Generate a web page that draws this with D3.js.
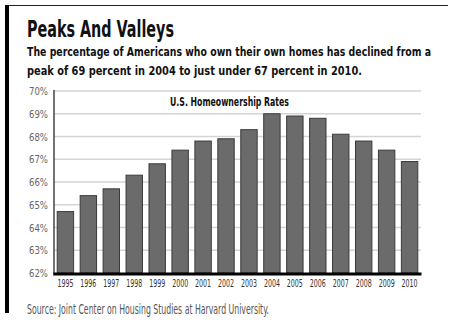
<!DOCTYPE html>
<html>
<head>
<meta charset="utf-8">
<script src="https://cdn.jsdelivr.net/npm/d3@7"></script>
<style>
  body { margin: 0; background: #fff; }
  svg { display: block; }
  text { font-family: "Liberation Sans Narrow", "DejaVu Sans Condensed", sans-serif; }
</style>
</head>
<body>
<svg id="chart" width="450" height="325"></svg>
<script>
var years = ["1995", "1996", "1997", "1998", "1999", "2000", "2001", "2002",
             "2003", "2004", "2005", "2006", "2007", "2008", "2009", "2010"];
var rates = [64.7, 65.4, 65.7, 66.3, 66.8, 67.4, 67.8, 67.9,
             68.3, 69.0, 68.9, 68.8, 68.1, 67.8, 67.4, 66.9];
var yTicks = [62, 63, 64, 65, 66, 67, 68, 69, 70];

var svg = d3.select("#chart");

// frame: thin rule on top, thick bar on the left
svg.append("line")
    .attr("x1", 5).attr("x2", 448)
    .attr("y1", 5.5).attr("y2", 5.5)
    .attr("stroke", "#222")
    .attr("stroke-width", 1.2);
svg.append("rect")
    .attr("x", 5).attr("y", 5)
    .attr("width", 4).attr("height", 308)
    .attr("fill", "#000");

// headline + deck
svg.append("text")
    .attr("x", 27).attr("y", 37)
    .attr("font-size", "23px")
    .attr("font-weight", "bold")
    .attr("fill", "#111")
    .attr("textLength", 147)
    .attr("lengthAdjust", "spacingAndGlyphs")
    .text("Peaks And Valleys");

svg.append("text")
    .attr("x", 27).attr("y", 56)
    .attr("font-size", "13px")
    .attr("font-weight", "bold")
    .attr("fill", "#111")
    .attr("textLength", 404)
    .attr("lengthAdjust", "spacingAndGlyphs")
    .text("The percentage of Americans who own their own homes has declined from a");
svg.append("text")
    .attr("x", 27).attr("y", 75)
    .attr("font-size", "13px")
    .attr("font-weight", "bold")
    .attr("fill", "#111")
    .attr("textLength", 335)
    .attr("lengthAdjust", "spacingAndGlyphs")
    .text("peak of 69 percent in 2004 to just under 67 percent in 2010.");

// plot area
var plotLeft = 54, plotRight = 421, plotTop = 91, plotBottom = 273;

var x = d3.scaleBand()
    .domain(years)
    .range([plotLeft, plotRight])
    .paddingInner(0.285)
    .paddingOuter(0.14);

var y = d3.scaleLinear()
    .domain([62, 70])
    .range([plotBottom, plotTop]);

// gridlines
svg.append("g")
    .selectAll("line")
    .data(yTicks.slice(1))
    .enter()
    .append("line")
    .attr("x1", plotLeft).attr("x2", plotRight)
    .attr("y1", function(d) { return y(d); })
    .attr("y2", function(d) { return y(d); })
    .attr("stroke", "#d4d4d4")
    .attr("stroke-width", 1.5);

// y labels
var yAxis = svg.append("g")
    .attr("transform", "translate(" + plotLeft + ",0)")
    .call(d3.axisLeft(y).tickValues(yTicks).tickSize(0).tickPadding(6)
        .tickFormat(function(d) { return d + "%"; }));
yAxis.select(".domain").remove();
yAxis.selectAll("text")
    .attr("font-family", null)
    .attr("font-size", "11px")
    .attr("fill", "#666")
    .attr("textLength", 19)
    .attr("lengthAdjust", "spacingAndGlyphs");

// bars
svg.append("g")
    .selectAll("rect")
    .data(rates)
    .enter()
    .append("rect")
    .attr("x", function(d, i) { return x(years[i]); })
    .attr("y", function(d) { return y(d); })
    .attr("width", x.bandwidth())
    .attr("height", function(d) { return plotBottom - y(d); })
    .attr("fill", "#6b6b6b")
    .attr("stroke", "#3a3a3a")
    .attr("stroke-width", 1);

// axis lines
svg.append("line")
    .attr("x1", plotLeft).attr("x2", plotLeft)
    .attr("y1", plotTop - 1).attr("y2", plotBottom)
    .attr("stroke", "#444")
    .attr("stroke-width", 1.5);
svg.append("line")
    .attr("x1", plotLeft - 0.75).attr("x2", plotRight + 0.5)
    .attr("y1", plotBottom + 1).attr("y2", plotBottom + 1)
    .attr("stroke", "#000")
    .attr("stroke-width", 3);

// x labels
var xAxis = svg.append("g")
    .attr("transform", "translate(0," + plotBottom + ")")
    .call(d3.axisBottom(x).tickSize(0).tickPadding(7));
xAxis.select(".domain").remove();
xAxis.selectAll("text")
    .attr("font-family", null)
    .attr("font-size", "10.5px")
    .attr("fill", "#333")
    .attr("textLength", 16)
    .attr("lengthAdjust", "spacingAndGlyphs");

// inner title
svg.append("text")
    .attr("x", 229.5).attr("y", 106)
    .attr("text-anchor", "middle")
    .attr("font-size", "12.5px")
    .attr("font-weight", "bold")
    .attr("fill", "#111")
    .attr("textLength", 119)
    .attr("lengthAdjust", "spacingAndGlyphs")
    .text("U.S. Homeownership Rates");

// source line
svg.append("text")
    .attr("x", 27).attr("y", 314)
    .attr("font-size", "13.5px")
    .attr("fill", "#555")
    .attr("textLength", 242)
    .attr("lengthAdjust", "spacingAndGlyphs")
    .text("Source: Joint Center on Housing Studies at Harvard University.");
</script>
</body>
</html>
